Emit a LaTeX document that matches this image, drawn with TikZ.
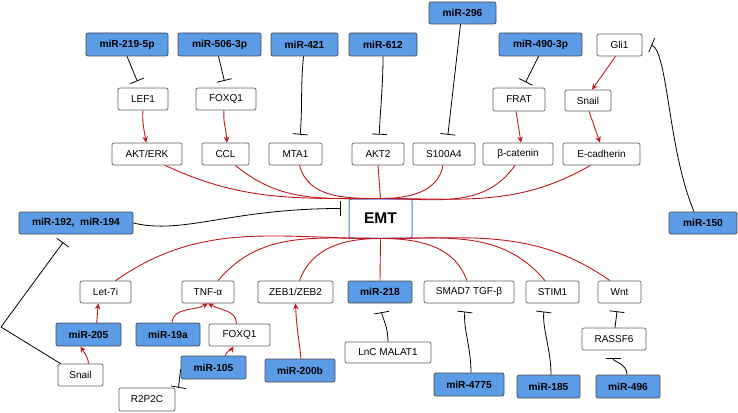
\documentclass[tikz,border=0pt]{standalone}
\usepackage{fontspec}
\setmainfont{Liberation Sans}
\usetikzlibrary{arrows.meta,calc}
\definecolor{mirblue}{RGB}{92,155,230}
\definecolor{lnred}{RGB}{192,24,30}
\definecolor{boxgray}{RGB}{95,95,95}
\definecolor{emtblue}{RGB}{85,115,228}
\begin{document}
\begin{tikzpicture}[x=1pt,y=-1pt,
 wbox/.style={draw=boxgray, fill=white, rounded corners=2pt, line width=0.7pt, inner sep=0pt, font=\fontsize{10}{12}\selectfont},
 bbox/.style={draw=boxgray!80!black, fill=mirblue, rounded corners=2pt, line width=0.7pt, inner sep=0pt, font=\fontsize{10.2}{12}\selectfont\bfseries},
 inh/.style={draw=black, line width=0.8pt, -{Bar[width=15pt,line width=0.8pt]}},
 act/.style={draw=lnred, line width=0.9pt, -{Stealth[length=6pt,width=5.5pt]}},
 lnk/.style={draw=lnred, line width=0.9pt},
]
\useasboundingbox (0,0) rectangle (738,412);

% top row
\node[bbox, minimum width=82pt, minimum height=23pt] (m219) at (127,44.5) {miR-219-5p};
\node[bbox, minimum width=83pt, minimum height=23pt] (m506) at (219.5,44.5) {miR-506-3p};
\node[bbox, minimum width=67pt, minimum height=23pt] (m421) at (304.5,44.5) {miR-421};
\node[bbox, minimum width=68pt, minimum height=23pt] (m612) at (383,44.5) {miR-612};
\node[bbox, minimum width=67pt, minimum height=22pt] (m296) at (462.5,13) {miR-296};
\node[bbox, minimum width=83pt, minimum height=23pt] (m490) at (540.5,44.5) {miR-490-3p};
\node[wbox, minimum width=45pt, minimum height=22pt] (gli1) at (619.5,45) {Gli1};

% middle row
\node[wbox, minimum width=50pt, minimum height=22pt] (lef1) at (143,99) {LEF1};
\node[wbox, minimum width=60pt, minimum height=22pt] (foxa) at (226,99) {FOXQ1};
\node[wbox, minimum width=52pt, minimum height=23pt] (frat) at (519,99.5) {FRAT};
\node[wbox, minimum width=46pt, minimum height=21pt] (snaila) at (588,100.5) {Snail};

% third row
\node[wbox, minimum width=70pt, minimum height=22pt] (akt) at (147,154) {AKT/ERK};
\node[wbox, minimum width=47pt, minimum height=22pt] (ccl) at (225.5,154) {CCL};
\node[wbox, minimum width=53pt, minimum height=22pt] (mta1) at (295.5,154) {MTA1};
\node[wbox, minimum width=52pt, minimum height=22pt] (akt2) at (378,154) {AKT2};
\node[wbox, minimum width=62pt, minimum height=22pt] (s100) at (444,154) {S100A4};
\node[wbox, minimum width=70pt, minimum height=22pt] (bcat) at (518,154) {β-catenin};
\node[wbox, minimum width=77pt, minimum height=22pt] (ecad) at (601.5,154) {E-cadherin};

% EMT and sides
\node[draw=emtblue, fill=white, rounded corners=2pt, line width=1pt, inner sep=0pt,
      minimum width=63pt, minimum height=39pt, font=\fontsize{15.5}{17}\selectfont\bfseries] (emt) at (380.5,218.5) {EMT};
\node[bbox, minimum width=114pt, minimum height=22pt] (m192) at (76,223) {miR-192,\ \ miR-194};
\node[bbox, minimum width=68pt, minimum height=22pt] (m150) at (703,223) {miR-150};

% bottom row
\node[wbox, minimum width=51pt, minimum height=22pt] (let7) at (105.5,292) {Let-7i};
\node[wbox, minimum width=52pt, minimum height=22pt] (tnf) at (208,292) {TNF-α};
\node[wbox, minimum width=75pt, minimum height=22pt] (zeb) at (295.5,292) {ZEB1/ZEB2};
\node[bbox, minimum width=64pt, minimum height=22pt] (m218) at (380,292) {miR-218};
\node[wbox, minimum width=90pt, minimum height=22pt] (smad) at (469,292) {SMAD7 TGF-β};
\node[wbox, minimum width=53pt, minimum height=22pt] (stim) at (552.5,292) {STIM1};
\node[wbox, minimum width=43pt, minimum height=22pt] (wnt) at (619.5,292) {Wnt};

\node[bbox, minimum width=65pt, minimum height=23pt] (m205) at (88.5,334.5) {miR-205};
\node[bbox, minimum width=64pt, minimum height=23pt] (m19a) at (168,334.5) {miR-19a};
\node[wbox, minimum width=61pt, minimum height=22pt] (foxb) at (239.5,335) {FOXQ1};
\node[wbox, minimum width=86pt, minimum height=21pt] (malat) at (388,352.5) {LnC MALAT1};
\node[wbox, minimum width=64pt, minimum height=22pt] (rassf) at (614,339) {RASSF6};
\node[wbox, minimum width=45pt, minimum height=22pt] (snailb) at (80.5,375) {Snail};
\node[bbox, minimum width=65pt, minimum height=23pt] (m105) at (213.5,367.5) {miR-105};
\node[bbox, minimum width=70pt, minimum height=23pt] (m200b) at (300,370.5) {miR-200b};
\node[wbox, minimum width=56pt, minimum height=23pt] (r2p2c) at (147,399.5) {R2P2C};
\node[bbox, minimum width=70pt, minimum height=23pt] (m4775) at (469,384.5) {miR-4775};
\node[bbox, minimum width=63pt, minimum height=23pt] (m185) at (548.5,386.5) {miR-185};
\node[bbox, minimum width=64pt, minimum height=23pt] (m496) at (628,386.5) {miR-496};

% top inhibitions
\draw[inh, shorten >=7pt] (m219.south) -- ($(lef1.north)+(-3,0)$);
\draw[inh, shorten >=7pt] ($(m506.south)+(-1,0)$) -- (foxa.north);
\draw[inh, shorten >=8pt] ($(m421.south)+(-1,0)$) .. controls +(-3,30) and +(3,-35) .. ($(mta1.north)+(4,0)$);
\draw[inh, shorten >=8pt] (m612.south) .. controls +(0,30) and +(1,-30) .. ($(akt2.north)+(1,0)$);
\draw[inh, shorten >=8pt] ($(m296.south)+(-2,0)$) -- ($(s100.north)+(3,0)$);
\draw[inh, shorten >=6pt] ($(m490.south)+(-2,0)$) -- ($(frat.north)+(4,0)$);
\draw[act] ($(gli1.south)+(-4,0)$) -- ($(snaila.north)+(4,0)$);
\draw[act] (lef1.south) .. controls +(-1,12) and +(-2,-14) .. ($(akt.north)+(-1,0)$);
\draw[act] ($(foxa.south)+(-2,0)$) .. controls +(-1,12) and +(-1,-14) .. ($(ccl.north)+(1.5,0)$);
\draw[act] ($(frat.south)+(-3,0)$) -- ($(bcat.north)+(3,0)$);
\draw[act] ($(snaila.south)+(1,0)$) -- ($(ecad.north)+(-1.5,0)$);
\draw[inh] ([xshift=-9pt]m150.north) .. controls (668,150) and (668,52) .. ($(gli1.east)+(9,0)$);

% converging on EMT
\draw[lnk] ($(akt.south)+(18,0)$) to[out=-25,in=180] (emt.north);
\draw[lnk] ($(ccl.south)+(10,0)$) to[out=-40,in=180] (emt.north);
\draw[lnk] ($(mta1.south)+(4,0)$) to[out=-75,in=180] (emt.north);
\draw[lnk] (akt2.south) -- (emt.north);
\draw[lnk] ($(s100.south)+(-1,0)$) to[out=-100,in=0] (emt.north);
\draw[lnk] ($(bcat.south)+(-3,0)$) to[out=-125,in=0] (emt.north);
\draw[lnk] ($(ecad.south)+(-11,0)$) to[out=-150,in=0] (emt.north);

\draw[lnk] (emt.south) to[out=180,in=35] ($(let7.north)+(10,0)$);
\draw[lnk] (emt.south) to[out=180,in=50] ($(tnf.north)+(10,0)$);
\draw[lnk] (emt.south) to[out=180,in=70] ($(zeb.north)+(4,0)$);
\draw[lnk] (emt.south) -- (m218.north);
\draw[lnk] (emt.south) to[out=0,in=110] ($(smad.north)+(-2,0)$);
\draw[lnk] (emt.south) to[out=0,in=130] ($(stim.north)+(-7.5,0)$);
\draw[lnk] (emt.south) to[out=0,in=145] ($(wnt.north)+(-9.5,0)$);

% left side
\draw[inh] (m192.east) .. controls +(50,12) and +(-110,0) .. ($(emt.west)+(-8,-10)$);
\coordinate (bend) at (1,327);
\draw[inh, shorten >=10pt] ($(snailb.north west)+(3,0)$) -- (bend) -- ($(m192.south)+(-7,0)$);

% bottom
\draw[act] ($(m205.north)+(8,0)$) to[out=80,in=-100] ($(let7.south)+(-7,0)$);
\draw[act] ($(snailb.north)+(8,0)$) to[out=95,in=-60] ($(m205.south)+(-8,0)$);
\draw[act] ($(m19a.north)+(4,0)$) to[out=85,in=-150] (tnf.south);
\draw[act] ($(foxb.north)+(-3,0)$) to[out=90,in=-30] (tnf.south);
\draw[act] ($(m105.north)+(12,0)$) to[out=90,in=-120] ($(foxb.south)+(-6,0)$);
\draw[inh] ($(m105.west)+(0,2)$) to[out=-100,in=80] ($(r2p2c.north east)+(3,0)$);
\draw[act] ($(m200b.north)+(1,0)$) .. controls +(-2,-20) and +(1,25) .. (zeb.south);
\draw[inh, shorten >=9pt] (malat.north) to[out=90,in=-80] (m218.south);
\draw[inh, shorten >=9pt] ($(m4775.north)+(2,0)$) .. controls +(0,-25) and +(-3,25) .. ($(smad.north)+(-3,22)$);
\draw[inh, shorten >=9pt] ($(m185.north)+(2.5,0)$) .. controls +(0,-25) and +(-3,25) .. ($(stim.north)+(-7.5,22)$);
\draw[inh, shorten >=8pt] ($(rassf.north)+(1,0)$) -- ($(wnt.south)+(-1.5,0)$);
\draw[inh, shorten >=8pt] ($(m496.north)+(-1,0)$) to[out=90,in=-90] ($(rassf.south)+(-1,0)$);
\end{tikzpicture}
\end{document}
